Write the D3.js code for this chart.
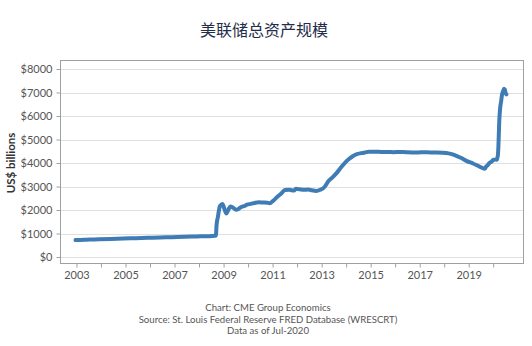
<!DOCTYPE html>
<html>
<head>
<meta charset="utf-8">
<script src="https://cdn.jsdelivr.net/npm/d3@7"></script>
<style>
  html, body { margin: 0; padding: 0; background: #fff; }
  svg { display: block; }
</style>
</head>
<body>
<svg id="chart" width="532" height="346"></svg>
<script>
// Federal Reserve total assets, US$ billions (date, value)
const dates = [
  "2002-12-18","2003-03-01","2003-06-01","2003-09-01","2003-12-01",
  "2004-06-01","2004-12-01","2005-06-01","2005-12-01","2006-06-01",
  "2006-12-01","2007-06-01","2007-12-01","2008-03-01","2008-06-01",
  "2008-08-27","2008-09-10","2008-09-17","2008-09-24","2008-10-08",
  "2008-10-22","2008-11-05","2008-11-19","2008-12-03","2008-12-17",
  "2009-01-07","2009-01-21","2009-02-11","2009-03-04","2009-03-25",
  "2009-04-15","2009-05-13","2009-06-10","2009-07-08","2009-08-05",
  "2009-09-09","2009-10-14","2009-11-18","2009-12-16","2010-02-10",
  "2010-04-07","2010-06-09","2010-08-11","2010-10-13","2010-11-17",
  "2011-01-12","2011-03-09","2011-05-11","2011-07-06","2011-09-07",
  "2011-10-12","2011-11-16","2011-12-14","2012-02-08","2012-04-11",
  "2012-06-13","2012-08-08","2012-10-10","2012-12-12","2013-02-13",
  "2013-04-10","2013-06-12","2013-08-14","2013-10-09","2013-12-11",
  "2014-02-12","2014-04-09","2014-06-11","2014-08-13","2014-10-08",
  "2014-12-10","2015-03-11","2015-06-10","2015-09-09","2015-12-09",
  "2016-03-09","2016-06-08","2016-09-07","2016-12-07","2017-03-08",
  "2017-06-07","2017-09-06","2017-12-06","2018-03-07","2018-06-06",
  "2018-09-05","2018-12-05","2019-03-06","2019-06-05","2019-08-28",
  "2019-09-18","2019-10-09","2019-11-06","2019-12-04","2020-01-08",
  "2020-02-05","2020-02-26","2020-03-04","2020-03-11","2020-03-18",
  "2020-03-25","2020-04-01","2020-04-08","2020-04-15","2020-04-29",
  "2020-05-13","2020-05-27","2020-06-10","2020-06-17","2020-06-24",
  "2020-07-01","2020-07-15"
];
const assets = [
  720, 725, 735, 745, 755,
  770, 785, 800, 815, 830,
  845, 860, 875, 880, 885,
  905, 925, 1300, 1500, 1700,
  1950, 2150, 2200, 2240, 2260,
  2100, 1980, 1850, 1950, 2080,
  2150, 2120, 2060, 2010, 2030,
  2110, 2150, 2180, 2230, 2260,
  2300, 2330, 2320, 2310, 2290,
  2400, 2550, 2700, 2850, 2860,
  2840, 2830, 2900, 2880, 2860,
  2870, 2840, 2810, 2860, 2980,
  3220, 3390, 3580, 3790, 4000,
  4170, 4290, 4380, 4420, 4450,
  4480, 4480, 4470, 4470, 4460,
  4470, 4460, 4450, 4450, 4460,
  4450, 4450, 4440, 4410, 4340,
  4220, 4080, 3980, 3860, 3760,
  3850, 3900, 4000, 4050, 4140,
  4150, 4140, 4240, 4330, 4670,
  5250, 5820, 6130, 6370, 6640,
  6930, 7050, 7160, 7130, 7130,
  7000, 6920
];
const yTicks = [0, 1000, 2000, 3000, 4000, 5000, 6000, 7000, 8000];
const xTickYears = d3.range(2003, 2021);
const title = "美联储总资产规模";
const yLabel = "US$ billions";
const footer = [
  "Chart: CME Group Economics",
  "Source: St. Louis Federal Reserve FRED Database (WRESCRT)",
  "Data as of Jul-2020"
];

const parse = d3.timeParse("%Y-%m-%d");
const series = dates.map((d, i) => ({ date: parse(d), value: assets[i] }));

const svg = d3.select("#chart");
const plot = { left: 60, right: 523, top: 60, bottom: 263 };
const font = "Lato, 'Open Sans', sans-serif";

const x = d3.scaleTime()
  .domain([new Date(2002, 4, 1), new Date(2021, 2, 20)])
  .range([plot.left, plot.right]);
const y = d3.scaleLinear()
  .domain([-255, 8383])
  .range([plot.bottom, plot.top]);

// horizontal gridlines
svg.append("g")
  .selectAll("line")
  .data(yTicks)
  .join("line")
  .attr("x1", plot.left).attr("x2", plot.right)
  .attr("y1", d => Math.round(y(d)) + 0.5).attr("y2", d => Math.round(y(d)) + 0.5)
  .attr("stroke", "#e0e0e0").attr("stroke-width", 1);

// plot frame
svg.append("rect")
  .attr("x", plot.left + 0.5).attr("y", plot.top + 0.5)
  .attr("width", plot.right - plot.left).attr("height", plot.bottom - plot.top)
  .attr("fill", "none").attr("stroke", "#a0a0a0").attr("stroke-width", 1);

// y axis
const yAxis = svg.append("g")
  .attr("transform", `translate(${plot.left + 0.5},0)`)
  .call(d3.axisLeft(y).tickValues(yTicks).tickSize(4).tickPadding(4)
    .tickFormat(d => "$" + d));
yAxis.select(".domain").remove();
yAxis.selectAll("line").attr("stroke", "#a0a0a0");
yAxis.selectAll("text")
  .attr("fill", "#555").style("font-family", font).style("font-size", "11px");

// x axis: tick every year, label every other year
const xAxis = svg.append("g")
  .attr("transform", `translate(0,${plot.bottom + 0.5})`)
  .call(d3.axisBottom(x)
    .tickValues(xTickYears.map(yr => new Date(yr, 0, 1)))
    .tickSize(4).tickPadding(4)
    .tickFormat(d => d.getFullYear() % 2 === 1 ? d3.timeFormat("%Y")(d) : ""));
xAxis.select(".domain").remove();
xAxis.selectAll("line").attr("stroke", "#a0a0a0");
xAxis.selectAll("text")
  .attr("fill", "#555").style("font-family", font).style("font-size", "11px");

// balance sheet line
const line = d3.line()
  .x(d => x(d.date))
  .y(d => y(d.value))
  .curve(d3.curveMonotoneX);
svg.append("path")
  .datum(series)
  .attr("d", line)
  .attr("fill", "none")
  .attr("stroke", "#3f7cb6")
  .attr("stroke-width", 4)
  .attr("stroke-linejoin", "round")
  .attr("stroke-linecap", "round");

// title
svg.append("text")
  .attr("x", 264).attr("y", 36)
  .attr("text-anchor", "middle")
  .attr("fill", "#1f2d4a")
  .style("font-family", "'Noto Sans CJK SC', sans-serif")
  .style("font-size", "16px")
  .text(title);

// y axis label
svg.append("text")
  .attr("transform", "translate(15,163) rotate(-90)")
  .attr("text-anchor", "middle")
  .attr("fill", "#333")
  .style("font-family", font)
  .style("font-size", "11.5px")
  .style("font-weight", "bold")
  .text(yLabel);

// footer notes
svg.append("g")
  .selectAll("text")
  .data(footer)
  .join("text")
  .attr("x", 268)
  .attr("y", (d, i) => 311 + i * 11.5)
  .attr("text-anchor", "middle")
  .attr("fill", "#555")
  .style("font-family", font)
  .style("font-size", "9.6px")
  .text(d => d);
</script>
</body>
</html>
